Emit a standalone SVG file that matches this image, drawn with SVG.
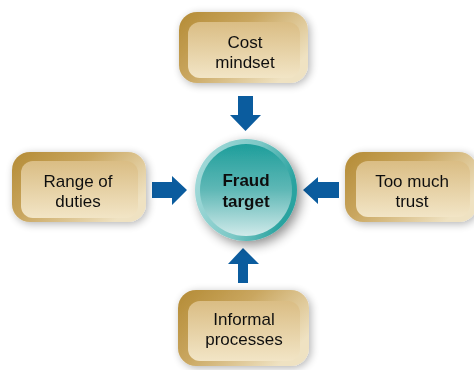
<svg xmlns="http://www.w3.org/2000/svg" width="474" height="370" viewBox="0 0 474 370">
<defs>
<linearGradient id="outerG" x1="0" y1="0" x2="1" y2="0.6">
<stop offset="0" stop-color="#b48b35"/>
<stop offset="0.45" stop-color="#c9a65f"/>
<stop offset="1" stop-color="#efe2c2"/>
</linearGradient>
<linearGradient id="innerG" x1="0" y1="0" x2="0" y2="1">
<stop offset="0" stop-color="#dabd84"/>
<stop offset="1" stop-color="#f2e5c6"/>
</linearGradient>
<linearGradient id="circG" x1="0" y1="0" x2="0" y2="1">
<stop offset="0" stop-color="#1e9e9b"/>
<stop offset="0.5" stop-color="#5fb8b6"/>
<stop offset="1" stop-color="#d0eaea"/>
</linearGradient>
<linearGradient id="ringG" x1="0" y1="0" x2="1" y2="0.3">
<stop offset="0" stop-color="#a8dcdc"/>
<stop offset="0.6" stop-color="#7cc8c6"/>
<stop offset="1" stop-color="#2aa3a0"/>
</linearGradient>
<filter id="sh" x="-20%" y="-20%" width="140%" height="140%">
<feGaussianBlur in="SourceAlpha" stdDeviation="4"/>
<feOffset dx="2" dy="2" result="b"/>
<feComponentTransfer><feFuncA type="linear" slope="0.3"/></feComponentTransfer>
<feMerge><feMergeNode/><feMergeNode in="SourceGraphic"/></feMerge>
</filter>
<filter id="shc" x="-30%" y="-30%" width="160%" height="160%">
<feGaussianBlur in="SourceAlpha" stdDeviation="6"/>
<feOffset dx="4" dy="4" result="b"/>
<feComponentTransfer><feFuncA type="linear" slope="0.45"/></feComponentTransfer>
<feMerge><feMergeNode/><feMergeNode in="SourceGraphic"/></feMerge>
</filter>
<style>
.outer{fill:url(#outerG);}
.inner{fill:url(#innerG);}
.lbl{font-family:"Liberation Sans",Arial,sans-serif;font-size:17px;fill:#111;text-anchor:middle;}
.bold{font-weight:bold;}
.arr{fill:#0b5c9e;}
</style>
</defs>
<rect width="474" height="370" fill="#ffffff"/>
<g id="connectors">
<polygon class="arr" points="238,96 253,96 253,115 261,115 245.5,131 230,115 238,115"/>
<polygon class="arr" points="152,182 172,182 172,176 187,190 172,205 172,198 152,198"/>
<polygon class="arr" points="339,182 318,182 318,177 303,190 318,204 318,198 339,198"/>
<polygon class="arr" points="238,283 248,283 248,264 259,264 243,248 228,264 238,264"/>
</g>
<g id="cost" filter="url(#sh)">
<rect class="outer" x="179" y="12" width="129" height="71" rx="18"/>
<rect class="inner" x="188" y="22" width="112" height="56" rx="12"/>
<text class="lbl" x="245" y="48">Cost</text>
<text class="lbl" x="245" y="68">mindset</text>
</g>
<g id="range" filter="url(#sh)">
<rect class="outer" x="12" y="152" width="134" height="70" rx="18"/>
<rect class="inner" x="21" y="161" width="117" height="57" rx="12"/>
<text class="lbl" x="78" y="187">Range of</text>
<text class="lbl" x="78" y="207">duties</text>
</g>
<g id="trust" filter="url(#sh)">
<rect class="outer" x="345" y="152" width="132" height="70" rx="18"/>
<rect class="inner" x="356" y="161" width="114" height="56" rx="12"/>
<text class="lbl" x="412" y="187">Too much</text>
<text class="lbl" x="412" y="207">trust</text>
</g>
<g id="informal" filter="url(#sh)">
<rect class="outer" x="178" y="290" width="131" height="76" rx="18"/>
<rect class="inner" x="188" y="301" width="112" height="60" rx="12"/>
<text class="lbl" x="244" y="325">Informal</text>
<text class="lbl" x="244" y="345">processes</text>
</g>
<g id="fraud" filter="url(#shc)">
<circle cx="246" cy="190" r="51" fill="url(#ringG)"/>
<circle cx="246" cy="190" r="46" fill="url(#circG)"/>
<text class="lbl bold" x="246" y="186">Fraud</text>
<text class="lbl bold" x="246" y="207">target</text>
</g>
</svg>
